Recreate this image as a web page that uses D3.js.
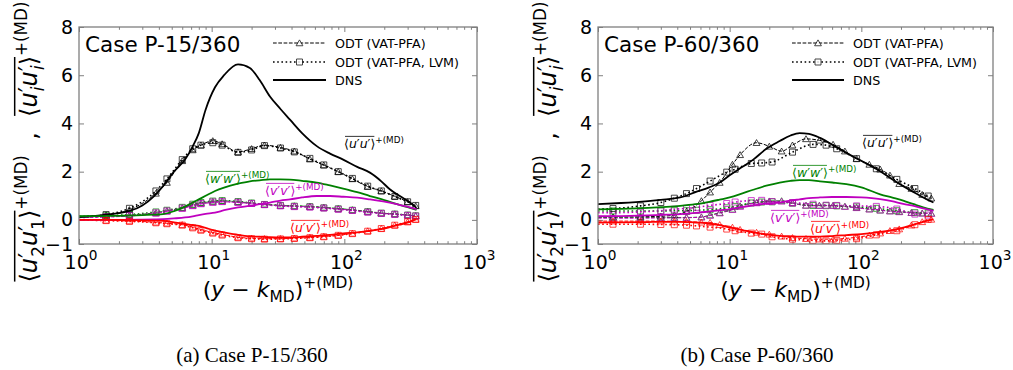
<!DOCTYPE html>
<html>
<head>
<meta charset="utf-8">
<script src="https://cdn.jsdelivr.net/npm/d3@7"></script>
<style>
  html, body { margin: 0; padding: 0; background: #fff; }
  svg { display: block; font-family: "DejaVu Sans", sans-serif; }
</style>
</head>
<body>
<svg id="fig" width="1013" height="370"></svg>
<script>
// ---------- axis ticks ----------
const xTickValues = [1, 10, 100, 1000];
const xTickExponents = ["0", "1", "2", "3"];
const yTickValues = [-1, 0, 2, 4, 6, 8];
const yTickLabels = ["\u22121", "0", "2", "4", "6", "8"];

const legendLabels = ["ODT (VAT-PFA)", "ODT (VAT-PFA, LVM)", "DNS"];
const caseTitles = ["Case P-15/360", "Case P-60/360"];
const captions = ["(a) Case P-15/360", "(b) Case P-60/360"];

// ---------- Case P-15/360 : DNS ----------
const dnsX_P15  = [1, 1.5, 2.4, 3, 3.7, 4.3, 5.2, 6.3, 7.2, 8.0, 9.0, 10.6, 12.4, 15.8, 19.4, 23, 27.5, 33, 38.9, 48, 62, 78, 98, 125, 156, 190, 220, 260, 312, 350];
const dnsUU_P15 = [0.12, 0.2, 0.37, 0.6, 1.0, 1.4, 2.0, 2.5, 3.05, 3.6, 4.57, 5.5, 6.0, 6.45, 6.3, 5.8, 5.12, 4.6, 4.16, 3.6, 3.06, 2.75, 2.5, 2.2, 1.96, 1.6, 1.27, 1.0, 0.72, 0.5];
const dnsVV_P15 = [0.0, 0.0, 0.0, 0.01, 0.02, 0.03, 0.06, 0.1, 0.15, 0.2, 0.25, 0.3, 0.4, 0.52, 0.58, 0.65, 0.72, 0.8, 0.85, 0.93, 0.99, 0.99, 0.96, 0.92, 0.85, 0.78, 0.72, 0.62, 0.52, 0.44];
const dnsWW_P15 = [0.15, 0.16, 0.18, 0.2, 0.22, 0.24, 0.36, 0.55, 0.72, 0.85, 1.0, 1.2, 1.34, 1.5, 1.6, 1.64, 1.68, 1.68, 1.67, 1.62, 1.55, 1.43, 1.3, 1.15, 0.99, 0.86, 0.75, 0.62, 0.5, 0.41];
const dnsUV_P15 = [0.0, 0.0, -0.01, -0.02, -0.03, -0.04, -0.1, -0.17, -0.22, -0.25, -0.33, -0.45, -0.52, -0.62, -0.68, -0.7, -0.72, -0.73, -0.73, -0.7, -0.66, -0.62, -0.56, -0.52, -0.45, -0.38, -0.3, -0.2, -0.08, 0.03];

// ---------- Case P-15/360 : ODT (VAT-PFA) ----------
const odtX_P15  = [1, 1.6, 2.4, 3.8, 4.6, 6.0, 7.2, 8.3, 10.2, 12, 15.8, 20, 25, 33, 42, 55, 70, 90, 115, 150, 190, 240, 300, 345];
const odtUU_P15 = [0.12, 0.2, 0.42, 1.1, 1.55, 2.45, 2.9, 3.1, 3.28, 3.15, 2.82, 2.95, 3.1, 3.0, 2.85, 2.52, 2.27, 2.0, 1.7, 1.38, 1.2, 0.98, 0.75, 0.58];
const odtVV_P15 = [0.1, 0.12, 0.16, 0.27, 0.35, 0.47, 0.58, 0.66, 0.72, 0.75, 0.72, 0.68, 0.63, 0.59, 0.56, 0.54, 0.5, 0.45, 0.4, 0.33, 0.27, 0.23, 0.19, 0.16];
const odtWW_P15 = [0.15, 0.17, 0.2, 0.3, 0.38, 0.5, 0.62, 0.7, 0.76, 0.79, 0.75, 0.7, 0.65, 0.6, 0.58, 0.56, 0.52, 0.47, 0.42, 0.35, 0.28, 0.25, 0.2, 0.17];
const odtUV_P15 = [0.0, -0.02, -0.05, -0.1, -0.14, -0.2, -0.3, -0.4, -0.52, -0.6, -0.72, -0.76, -0.78, -0.78, -0.76, -0.73, -0.69, -0.64, -0.56, -0.46, -0.36, -0.22, -0.08, 0.02];

// ---------- Case P-15/360 : ODT (VAT-PFA, LVM) ----------
const lvmX_P15  = [1, 1.6, 2.4, 3.8, 4.6, 6.0, 7.2, 8.3, 10.2, 12, 15.8, 20, 25, 33, 42, 55, 70, 90, 115, 150, 190, 240, 300, 345];
const lvmUU_P15 = [0.12, 0.22, 0.48, 1.2, 1.7, 2.5, 2.95, 3.1, 3.2, 3.1, 2.8, 2.9, 3.08, 2.98, 2.82, 2.55, 2.28, 2.0, 1.72, 1.4, 1.2, 0.97, 0.75, 0.6];
const lvmVV_P15 = [0.1, 0.13, 0.18, 0.29, 0.37, 0.49, 0.6, 0.68, 0.74, 0.76, 0.73, 0.68, 0.63, 0.58, 0.55, 0.53, 0.49, 0.44, 0.39, 0.32, 0.27, 0.23, 0.19, 0.16];
const lvmWW_P15 = [0.15, 0.17, 0.22, 0.33, 0.4, 0.52, 0.65, 0.72, 0.78, 0.8, 0.76, 0.7, 0.64, 0.6, 0.57, 0.55, 0.5, 0.46, 0.4, 0.34, 0.28, 0.24, 0.2, 0.17];
const lvmUV_P15 = [0.0, -0.03, -0.06, -0.12, -0.16, -0.22, -0.33, -0.43, -0.55, -0.63, -0.74, -0.78, -0.8, -0.79, -0.77, -0.74, -0.7, -0.64, -0.57, -0.47, -0.36, -0.22, -0.08, 0.02];

// ---------- Case P-60/360 : DNS ----------
const dnsX_P60  = [1, 1.5, 2.4, 3, 4.2, 5.5, 7, 8.4, 10, 12.5, 15.1, 19, 24, 29, 34, 40, 48.6, 60, 77, 100, 139, 170, 208, 250, 295, 353];
const dnsUU_P60 = [0.65, 0.7, 0.78, 0.83, 0.93, 1.15, 1.35, 1.55, 1.85, 2.2, 2.5, 2.95, 3.27, 3.5, 3.6, 3.57, 3.4, 3.12, 2.78, 2.45, 2.02, 1.7, 1.4, 1.15, 0.93, 0.72];
const dnsVV_P60 = [0.15, 0.16, 0.19, 0.21, 0.24, 0.29, 0.35, 0.4, 0.44, 0.53, 0.6, 0.68, 0.72, 0.8, 0.85, 0.9, 0.93, 0.95, 0.95, 0.93, 0.86, 0.78, 0.66, 0.58, 0.48, 0.37];
const dnsWW_P60 = [0.44, 0.46, 0.5, 0.53, 0.58, 0.65, 0.75, 0.84, 0.93, 1.1, 1.25, 1.42, 1.55, 1.62, 1.65, 1.65, 1.6, 1.55, 1.48, 1.35, 1.06, 0.93, 0.8, 0.65, 0.52, 0.41];
const dnsUV_P60 = [-0.11, -0.1, -0.09, -0.08, -0.08, -0.1, -0.15, -0.22, -0.31, -0.42, -0.52, -0.6, -0.66, -0.68, -0.69, -0.69, -0.69, -0.67, -0.63, -0.59, -0.5, -0.42, -0.32, -0.2, -0.08, 0.02];

// ---------- Case P-60/360 : ODT (VAT-PFA) ----------
const odtX_P60  = [1, 1.3, 2.1, 3, 3.8, 4.7, 6.1, 7.1, 8.4, 10.5, 12, 16, 20, 24.8, 30, 38, 48, 61, 75, 92, 115, 139, 165, 194, 240, 290, 340];
const odtUU_P60 = [0.12, 0.12, 0.13, 0.15, 0.2, 0.35, 0.79, 1.15, 1.55, 2.3, 2.7, 3.2, 3.05, 2.85, 3.1, 3.36, 3.3, 3.13, 2.85, 2.54, 2.3, 2.1, 1.85, 1.5, 1.3, 1.05, 0.9];
const odtVV_P60 = [0.07, 0.07, 0.07, 0.08, 0.08, 0.09, 0.11, 0.18, 0.28, 0.42, 0.55, 0.7, 0.76, 0.77, 0.69, 0.6, 0.59, 0.59, 0.55, 0.5, 0.44, 0.4, 0.36, 0.33, 0.3, 0.27, 0.26];
const odtWW_P60 = [0.1, 0.1, 0.1, 0.1, 0.1, 0.1, 0.12, 0.2, 0.3, 0.44, 0.58, 0.72, 0.78, 0.79, 0.7, 0.6, 0.6, 0.6, 0.56, 0.51, 0.45, 0.4, 0.37, 0.34, 0.3, 0.28, 0.27];
const odtUV_P60 = [-0.05, -0.05, -0.05, -0.05, -0.06, -0.07, -0.1, -0.11, -0.2, -0.31, -0.4, -0.52, -0.6, -0.68, -0.74, -0.78, -0.8, -0.8, -0.77, -0.72, -0.64, -0.55, -0.45, -0.38, -0.22, -0.08, 0.02];

// ---------- Case P-60/360 : ODT (VAT-PFA, LVM) ----------
const lvmX_P60  = [1, 1.3, 2.1, 3, 3.8, 4.7, 5.6, 7.1, 9.5, 11, 14.6, 17.5, 21, 30, 43, 54, 65, 92, 130, 186, 255, 322];
const lvmUU_P60 = [0.45, 0.47, 0.58, 0.72, 0.9, 1.09, 1.3, 1.61, 1.98, 2.1, 2.34, 2.36, 2.4, 2.81, 3.13, 3.1, 2.95, 2.54, 2.12, 1.68, 1.3, 0.99];
const lvmVV_P60 = [0.3, 0.3, 0.33, 0.38, 0.44, 0.48, 0.52, 0.6, 0.68, 0.74, 0.8, 0.81, 0.76, 0.72, 0.65, 0.61, 0.6, 0.58, 0.56, 0.45, 0.24, 0.2];
const lvmWW_P60 = [0.37, 0.37, 0.37, 0.37, 0.38, 0.38, 0.4, 0.42, 0.5, 0.56, 0.7, 0.74, 0.75, 0.7, 0.6, 0.59, 0.58, 0.54, 0.48, 0.38, 0.3, 0.28];
const lvmUV_P60 = [-0.18, -0.18, -0.18, -0.19, -0.2, -0.22, -0.25, -0.3, -0.38, -0.45, -0.55, -0.59, -0.7, -0.8, -0.85, -0.87, -0.85, -0.78, -0.62, -0.45, -0.2, 0.02];

// ---------- styling ----------
const COLORS = { uu: "#000000", vv: "#bf00bf", ww: "#008000", uv: "#ff0000" };
const FRAME = "#7f7f7f";

const svg = d3.select("#fig");

// Lays out a small piece of math text (sub/superscripts, italics and an
// overline over the marked pieces) starting at the local origin.
function mathText(parent, pieces, base, color, anchor) {
  const g = parent.append("g");
  let x = 0, olMin = Infinity, olMax = -Infinity;
  pieces.forEach(p => {
    const fs = base * (p.s || 1);
    const t = g.append("text")
      .attr("x", x + (p.dx || 0) * base)
      .attr("y", (p.dy || 0) * base)
      .attr("font-size", fs)
      .attr("font-style", p.i ? "italic" : "normal")
      .attr("fill", color)
      .text(p.t);
    const w = t.node().getComputedTextLength();
    if (p.ol) { olMin = Math.min(olMin, x); olMax = Math.max(olMax, x + w); }
    if (p.adv !== false) x += w + (p.dx || 0) * base;
  });
  if (olMax > olMin) {
    g.append("line")
      .attr("x1", olMin + 1).attr("x2", olMax - 1)
      .attr("y1", -0.93 * base).attr("y2", -0.93 * base)
      .attr("stroke", color).attr("stroke-width", Math.max(0.8, base / 16));
  }
  if (anchor === "middle") g.selectAll("*").attr("transform", `translate(${-x / 2},0)`);
  return { g, width: x };
}

const SUP = 0.7, SUPDY = -0.42;

function annotPieces(a, b) {
  return [
    { t: "\u27E8", ol: true },
    { t: a, i: true, ol: true }, { t: "\u2032", ol: true },
    { t: b, i: true, ol: true }, { t: "\u2032", ol: true },
    { t: "\u27E9", ol: true },
    { t: "+(MD)", s: SUP, dy: SUPDY }
  ];
}

// y-axis title pieces: <u'_a u'_b>^{+(MD)}
function yTitlePieces(s1, s2) {
  return [
    { t: "\u27E8", ol: true },
    { t: "u", i: true, ol: true },
    { t: "\u2032", ol: true, adv: false, dy: -0.05 },
    { t: s1, s: SUP, dy: 0.28, i: s1 === "i", ol: true, dx: 0.05 },
    { t: "u", i: true, ol: true },
    { t: "\u2032", ol: true, adv: false, dy: -0.05 },
    { t: s2, s: SUP, dy: 0.28, i: s2 === "i", ol: true, dx: 0.05 },
    { t: "\u27E9", ol: true },
    { t: "+(MD)", s: SUP, dy: SUPDY }
  ];
}

const panels = [
  {
    x0: 79, x1: 477, title: caseTitles[0], caption: captions[0], capX: 252,
    dns: { x: dnsX_P15, uu: dnsUU_P15, vv: dnsVV_P15, ww: dnsWW_P15, uv: dnsUV_P15 },
    odt: { x: odtX_P15, uu: odtUU_P15, vv: odtVV_P15, ww: odtWW_P15, uv: odtUV_P15 },
    lvm: { x: lvmX_P15, uu: lvmUU_P15, vv: lvmVV_P15, ww: lvmWW_P15, uv: lvmUV_P15 },
    notes: { uu: [344, 148], ww: [205, 183], vv: [265, 195], uv: [290, 232] },
    legend: [273, 326]
  },
  {
    x0: 598, x1: 993, title: caseTitles[1], caption: captions[1], capX: 757,
    dns: { x: dnsX_P60, uu: dnsUU_P60, vv: dnsVV_P60, ww: dnsWW_P60, uv: dnsUV_P60 },
    odt: { x: odtX_P60, uu: odtUU_P60, vv: odtVV_P60, ww: odtWW_P60, uv: odtUV_P60 },
    lvm: { x: lvmX_P60, uu: lvmUU_P60, vv: lvmVV_P60, ww: lvmWW_P60, uv: lvmUV_P60 },
    notes: { uu: [862, 147], ww: [792, 177], vv: [770, 222], uv: [810, 233] },
    legend: [792, 844]
  }
];

const Y0 = 27, Y1 = 244;
const annotNames = { uu: ["u", "u"], vv: ["v", "v"], ww: ["w", "w"], uv: ["u", "v"] };

panels.forEach((P, pi) => {
  const x = d3.scaleLog().domain([1, 1000]).range([P.x0, P.x1]);
  const y = d3.scaleLinear().domain([-1, 8]).range([Y1, Y0]);
  const g = svg.append("g");

  const clipId = "clip" + pi;
  svg.append("clipPath").attr("id", clipId)
    .append("rect").attr("x", P.x0).attr("y", Y0).attr("width", P.x1 - P.x0).attr("height", Y1 - Y0);

  // ticks (inward, on all four sides)
  const minor = [];
  for (let d = 1; d < 1000; d *= 10) for (let k = 2; k <= 9; k++) minor.push(d * k);
  const axB = d3.axisBottom(x).tickValues(xTickValues).tickSize(-5).tickFormat("");
  const axT = d3.axisTop(x).tickValues(xTickValues).tickSize(-5).tickFormat("");
  const axBm = d3.axisBottom(x).tickValues(minor).tickSize(-2.8).tickFormat("");
  const axTm = d3.axisTop(x).tickValues(minor).tickSize(-2.8).tickFormat("");
  const axL = d3.axisLeft(y).tickValues(yTickValues).tickSize(-5).tickFormat("");
  const axR = d3.axisRight(y).tickValues(yTickValues).tickSize(-5).tickFormat("");
  [[axB, `translate(0,${Y1})`], [axBm, `translate(0,${Y1})`], [axT, `translate(0,${Y0})`], [axTm, `translate(0,${Y0})`],
   [axL, `translate(${P.x0},0)`], [axR, `translate(${P.x1},0)`]].forEach(([ax, tr]) => {
    const a = g.append("g").attr("transform", tr).call(ax);
    a.select(".domain").remove();
    a.selectAll("line").attr("stroke", FRAME).attr("stroke-width", 1);
  });

  // y tick labels
  yTickValues.forEach((v, i) => {
    g.append("text").attr("x", P.x0 - 6).attr("y", y(v) + 6.5)
      .attr("text-anchor", "end").attr("font-size", 19).attr("fill", "#000")
      .text(yTickLabels[i]);
  });
  // x tick labels 10^n
  xTickValues.forEach((v, i) => {
    const m = mathText(g, [{ t: "10" }, { t: xTickExponents[i], s: 0.72, dy: -0.45 }], 19, "#000", "middle");
    m.g.attr("transform", `translate(${x(v) + 2},269)`);
  });

  // data
  const lineOf = (xs, ys) => d3.line().x((d, i) => x(xs[i])).y(d => y(d)).curve(d3.curveMonotoneX)(ys);
  const plot = g.append("g").attr("clip-path", `url(#${clipId})`);
  const comps = ["uu", "ww", "vv", "uv"];

  // ODT (VAT-PFA): dashed with triangles
  comps.forEach(c => {
    plot.append("path").attr("d", lineOf(P.odt.x, P.odt[c])).attr("fill", "none")
      .attr("stroke", COLORS[c]).attr("stroke-width", 1).attr("stroke-dasharray", "3.7,1.6");
  });
  // ODT (VAT-PFA, LVM): dotted with squares
  comps.forEach(c => {
    plot.append("path").attr("d", lineOf(P.lvm.x, P.lvm[c])).attr("fill", "none")
      .attr("stroke", COLORS[c]).attr("stroke-width", 1.6).attr("stroke-dasharray", "1.6,2.6");
  });
  // markers
  const tri = d3.symbol(d3.symbolTriangle, 20)();
  const sq = d3.symbol(d3.symbolSquare, 36)();
  comps.forEach(c => {
    P.odt.x.forEach((xv, i) => {
      if (i === 0) return;
      plot.append("path").attr("d", tri)
        .attr("transform", `translate(${x(xv)},${y(P.odt[c][i]) + 0.8})`)
        .attr("fill", "none").attr("stroke", COLORS[c]).attr("stroke-width", 0.9).attr("opacity", 0.8);
    });
    P.lvm.x.forEach((xv, i) => {
      if (i === 0) return;
      plot.append("path").attr("d", sq)
        .attr("transform", `translate(${x(xv)},${y(P.lvm[c][i])})`)
        .attr("fill", "none").attr("stroke", COLORS[c]).attr("stroke-width", 0.9).attr("opacity", 0.8);
    });
  });
  // DNS: solid
  comps.forEach(c => {
    plot.append("path").attr("d", lineOf(P.dns.x, P.dns[c])).attr("fill", "none")
      .attr("stroke", COLORS[c]).attr("stroke-width", 1.8);
  });

  // frame
  g.append("rect").attr("x", P.x0).attr("y", Y0).attr("width", P.x1 - P.x0).attr("height", Y1 - Y0)
    .attr("fill", "none").attr("stroke", FRAME).attr("stroke-width", 1.3);

  // component annotations
  comps.forEach(c => {
    const [ax, ay] = P.notes[c];
    const m = mathText(g, annotPieces(...annotNames[c]), 12.5, COLORS[c]);
    m.g.attr("transform", `translate(${ax},${ay})`);
  });

  // case title
  g.append("text").attr("x", P.x0 + 6).attr("y", 52).attr("font-size", 21.5).attr("fill", "#000").text(P.title);

  // legend
  const [lx0, lx1] = P.legend;
  const lm = (lx0 + lx1) / 2;
  const rows = [43, 62, 80];
  g.append("line").attr("x1", lx0).attr("x2", lx1).attr("y1", rows[0]).attr("y2", rows[0])
    .attr("stroke", "#000").attr("stroke-width", 1).attr("stroke-dasharray", "3.7,1.6");
  g.append("path").attr("d", tri).attr("transform", `translate(${lm},${rows[0] + 0.8})`)
    .attr("fill", "#fff").attr("stroke", "#000").attr("stroke-width", 0.9).attr("opacity", 0.8);
  g.append("line").attr("x1", lx0).attr("x2", lx1).attr("y1", rows[1]).attr("y2", rows[1])
    .attr("stroke", "#000").attr("stroke-width", 1.6).attr("stroke-dasharray", "1.6,2.6");
  g.append("path").attr("d", sq).attr("transform", `translate(${lm},${rows[1]})`)
    .attr("fill", "#fff").attr("stroke", "#000").attr("stroke-width", 0.9).attr("opacity", 0.8);
  g.append("line").attr("x1", lx0).attr("x2", lx1).attr("y1", rows[2]).attr("y2", rows[2])
    .attr("stroke", "#000").attr("stroke-width", 1.8);
  legendLabels.forEach((t, i) => {
    g.append("text").attr("x", lx1 + 9).attr("y", rows[i] + 4.5).attr("font-size", 12.7).attr("fill", "#000").text(t);
  });

  // x-axis title: (y - k_MD)^{+(MD)}
  const xt = mathText(g, [
    { t: "(" }, { t: "y", i: true }, { t: "\u00A0\u2212\u00A0" }, { t: "k", i: true },
    { t: "MD", s: SUP, dy: 0.22 }, { t: ")" }, { t: "+(MD)", s: SUP, dy: SUPDY }
  ], 22, "#000", "middle");
  xt.g.attr("transform", `translate(${(P.x0 + P.x1) / 2},297)`);

  // y-axis title (rotated): two overlined correlations separated by a comma
  const yt = svg.append("g");
  const YFS = 24;
  const h1 = mathText(yt, yTitlePieces("2", "1"), YFS, "#000");
  const comma = yt.append("text").attr("x", h1.width).attr("y", 0).attr("font-size", YFS)
    .text("\u00A0\u00A0,\u00A0\u00A0");
  const cw = comma.node().getComputedTextLength();
  const h2 = mathText(yt, yTitlePieces("i", "i"), YFS, "#000");
  h2.g.attr("transform", `translate(${h1.width + cw},0)`);
  const total = h1.width + cw + h2.width;
  yt.attr("transform", `translate(${P.x0 - 42},${142 + total / 2}) rotate(-90)`);

  // caption
  svg.append("text").attr("x", P.capX).attr("y", 362).attr("text-anchor", "middle")
    .attr("font-family", "Liberation Serif, serif").attr("font-size", 21).attr("fill", "#000")
    .text(P.caption);
});
</script>
</body>
</html>
